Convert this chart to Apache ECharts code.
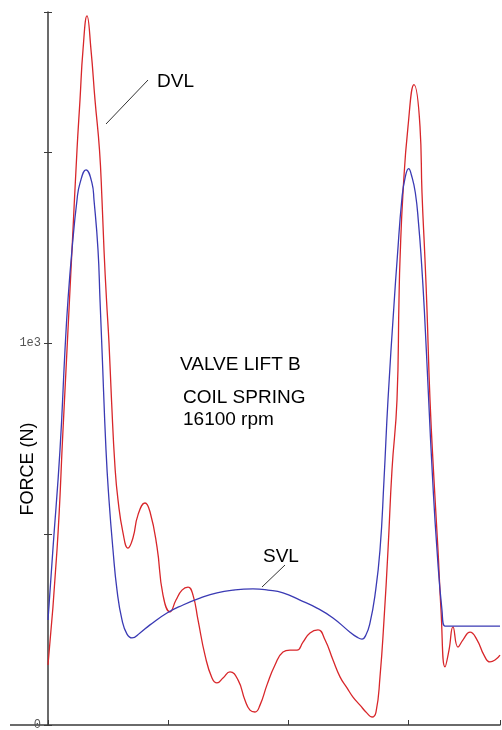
<!DOCTYPE html>
<html>
<head>
<meta charset="utf-8">
<script src="https://cdn.jsdelivr.net/npm/echarts@6/dist/echarts.min.js"></script>
<style>
  html, body { margin: 0; padding: 0; background: #fff; }
  #main { width: 502px; height: 730px; }
</style>
</head>
<body>
<div id="main"></div>
<script>
// crank angle (deg) and force (N)
const dvlX = [0, 6.75, 11.25, 14.25, 18, 21.75, 24, 26.25, 29.25, 32.25, 35.25, 38.625, 40.5, 42, 43.875, 45.75, 47.625, 50.25, 52.5, 56.25, 60, 63.75, 67.5, 72.75, 76.5, 81.75, 86.25, 91.5, 96, 100.5, 105, 108.75, 112.5, 117.75, 123, 126.75, 131.25, 136.5, 142.5, 147.75, 151.5, 155.25, 159, 164.25, 170.25, 176.25, 181.5, 186.75, 191.25, 196.5, 202.5, 207.75, 213.75, 219, 224.25, 228.75, 234, 239.25, 243, 246, 249, 252, 255, 258, 261.75, 263.25, 264, 266.25, 270, 274.5, 279, 280.5, 282.75, 284.25, 286.5, 289.5, 292.5, 294.75, 297.75, 300.75, 303.75, 307.5, 311.25, 316.5, 321.75, 327, 331.5, 335.25, 339];
const dvlY = [157, 458, 772, 982, 1244, 1505, 1636, 1767, 1856, 1767, 1636, 1505, 1374, 1244, 1113, 1000, 851, 675, 589, 503, 463, 490, 550, 581, 558, 466, 340, 296, 327, 353, 361, 340, 275, 183, 123, 110, 123, 139, 118, 65, 39, 34, 52, 105, 157, 191, 196, 196, 217, 241, 249, 223, 170, 126, 97, 73, 52, 31, 21, 34, 126, 275, 458, 668, 851, 1113, 1217, 1393, 1566, 1676, 1566, 1393, 1217, 1086, 851, 641, 458, 301, 152, 196, 257, 204, 223, 243, 223, 183, 165, 170, 183];

const svlX = [0, 3.75, 9, 12.75, 15, 18, 21.75, 24, 28.5, 33, 34.5, 37.5, 39, 40.5, 43.5, 45.75, 48.75, 51.75, 55.5, 59.25, 63, 69, 76.5, 89.25, 101.25, 114, 126.75, 138.75, 153.75, 165, 176.25, 189, 201.75, 213.75, 226.5, 231.75, 235.5, 238.5, 241.5, 245.25, 249, 252, 255, 259.5, 262, 265.5, 268, 270.5, 272.5, 275.5, 278, 280, 282.25, 285.5, 288.5, 291.75, 295.5, 297.75, 316.5, 339];
const svlY = [275, 463, 720, 982, 1113, 1244, 1374, 1418, 1453, 1418, 1374, 1244, 1113, 982, 720, 589, 458, 353, 275, 238, 228, 241, 262, 293, 314, 332, 346, 353, 356, 353, 346, 327, 306, 280, 243, 230, 225, 236, 267, 340, 458, 641, 851, 1100, 1225, 1380, 1435, 1456, 1440, 1393, 1309, 1217, 1086, 851, 641, 458, 300, 259, 259, 259];

const yTickLabels = { 0: '0', 1000: '1e3' };

const zip = (xs, ys) => xs.map((x, i) => [x, ys[i]]);

var myChart = echarts.init(document.getElementById('main'));

const axisColor = '#3a3a3a';
const textFont = 'Liberation Sans, Arial, sans-serif';

myChart.setOption({
    animation: false,
    backgroundColor: '#fff',
    grid: { left: 48, right: 2, top: 12, bottom: 5, outerBoundsMode: 'none' },
    xAxis: {
        type: 'value',
        min: 0,
        max: 339,
        interval: 90,
        axisLine: { lineStyle: { color: axisColor, width: 1.5 } },
        axisTick: { inside: true, length: 5, lineStyle: { color: axisColor } },
        axisLabel: { show: false },
        splitLine: { show: false }
    },
    yAxis: [{
        type: 'value',
        min: 0,
        max: 1866,
        interval: 500,
        axisLine: { lineStyle: { color: axisColor, width: 1.5 } },
        axisTick: { length: 4, lineStyle: { color: axisColor } },
        axisLabel: {
            margin: 7,
            fontFamily: 'Liberation Mono, monospace',
            fontSize: 12,
            color: '#555',
            formatter: v => yTickLabels[v] || ''
        },
        splitLine: { show: false }
    }, {
        type: 'value',
        position: 'left',
        min: 0,
        max: 1866,
        interval: 500,
        axisLine: { show: false },
        axisTick: { inside: true, length: 4, lineStyle: { color: axisColor } },
        axisLabel: { show: false },
        splitLine: { show: false }
    }],
    series: [{
        name: 'DVL',
        type: 'line',
        data: zip(dvlX, dvlY),
        smooth: 0.5,
        showSymbol: false,
        lineStyle: { color: '#d8262a', width: 1.3 }
    }, {
        name: 'SVL',
        type: 'line',
        data: zip(svlX, svlY),
        smooth: 0.5,
        showSymbol: false,
        lineStyle: { color: '#3a3ab4', width: 1.3 }
    }],
    graphic: [
        // x axis line runs a little past the y axis on the left
        { type: 'line', shape: { x1: 10, y1: 725, x2: 48, y2: 725 }, style: { stroke: axisColor, lineWidth: 1.5 } },
        // y axis title sits low, not centred on the axis
        { type: 'text', x: 28, y: 469, rotation: Math.PI / 2,
          style: { text: 'FORCE (N)', font: '18px ' + textFont, fill: '#000', align: 'center', verticalAlign: 'middle' } },
        { type: 'text', left: 157, top: 72, style: { text: 'DVL', font: '19px ' + textFont, fill: '#000' } },
        { type: 'line', shape: { x1: 148, y1: 80, x2: 106, y2: 124 }, style: { stroke: '#333', lineWidth: 1 } },
        { type: 'text', left: 263, top: 547, style: { text: 'SVL', font: '19px ' + textFont, fill: '#000' } },
        { type: 'line', shape: { x1: 285, y1: 565, x2: 262, y2: 587 }, style: { stroke: '#333', lineWidth: 1 } },
        { type: 'text', left: 180, top: 355, style: { text: 'VALVE LIFT B', font: '19px ' + textFont, fill: '#000' } },
        { type: 'text', left: 183, top: 388, style: { text: 'COIL SPRING', font: '19px ' + textFont, fill: '#000' } },
        { type: 'text', left: 183, top: 410, style: { text: '16100 rpm', font: '19px ' + textFont, fill: '#000' } }
    ]
});
</script>
</body>
</html>
